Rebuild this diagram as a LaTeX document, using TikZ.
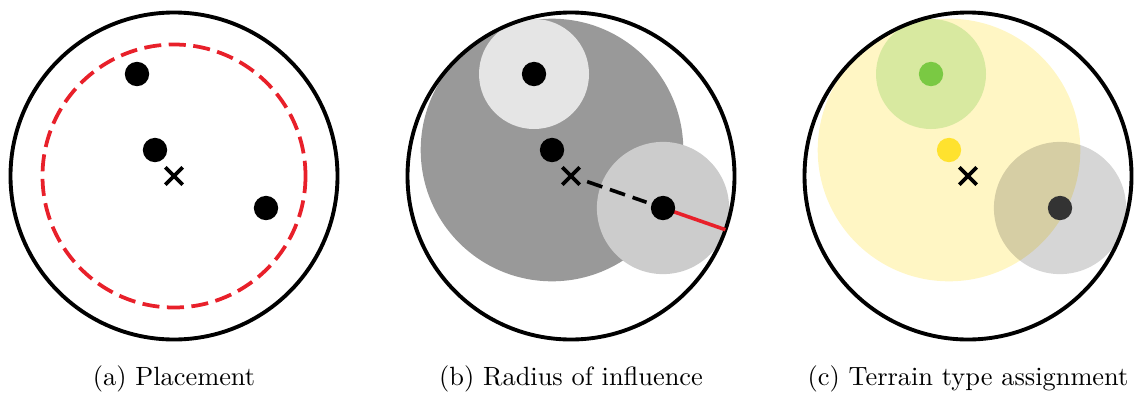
\documentclass[tikz,border=0pt]{standalone}
\usetikzlibrary{shapes.misc,calc}
\definecolor{redline}{HTML}{E8202A}
\definecolor{dgray}{HTML}{999999}
\definecolor{lgray}{HTML}{E5E5E5}
\definecolor{mgray}{HTML}{CCCCCC}
\definecolor{paleyellow}{HTML}{FFF6C4}
\definecolor{palegreen}{HTML}{D8E9A0}
\definecolor{dotgreen}{HTML}{7AC943}
\definecolor{dotyellow}{HTML}{FFE22E}
\definecolor{dotdark}{HTML}{333333}
\tikzset{
  outer/.style={draw=black,line width=1.5pt},
  dot/.style={circle,fill=#1,inner sep=0pt,minimum size=9.4pt},
  dot/.default=black,
  centremark/.style={cross out,draw=black,line width=1.45pt,inner sep=0pt,minimum size=5.3pt},
  reddash/.style={draw=redline,line width=1.45pt,dash pattern=on 6.6pt off 2.9pt},
  blackdash/.style={draw=black,line width=1.4pt,dash pattern=on 6.2pt off 3.1pt},
  redray/.style={draw=redline,line width=1.4pt},
  caption/.style={anchor=base,font=\fontsize{10.2}{12}\selectfont,inner sep=0pt}
}
\begin{document}
\begin{tikzpicture}[x=0.3865pt,y=-0.3865pt]
\useasboundingbox (0,0) rectangle (1137,393);

% ---------- (a) Placement ----------
\coordinate (ca) at (174,176);
\draw[reddash] (ca) circle[radius=131.5];
\draw[outer] (ca) circle[radius=163.5];
\node[dot] (a1) at ($(ca)+(-37,-102)$) {};
\node[dot] (a2) at ($(ca)+(-19,-26)$) {};
\node[dot] (a3) at ($(ca)+(92,32)$) {};
\node[centremark] (xa) at (ca) {};
\node[caption] (capa) at (174,385) {(a) Placement};

% ---------- (b) Radius of influence ----------
\coordinate (cb) at (571,176);
\fill[dgray] ($(cb)+(-19,-26)$) circle[radius=131.3];
\fill[lgray] ($(cb)+(-37,-102)$) circle[radius=55];
\fill[mgray] ($(cb)+(92,32)$) circle[radius=66.1];
\draw[outer] (cb) circle[radius=163.5];
\node[dot] (b1) at ($(cb)+(-37,-102)$) {};
\node[dot] (b2) at ($(cb)+(-19,-26)$) {};
\coordinate (b3c) at ($(cb)+(92,32)$);
\coordinate (bend) at ($(cb)+(154.4,53.7)$);
\draw[blackdash] ($(cb)!6.6pt!(b3c)$) -- ($(cb)!30.9pt!(b3c)$);
\draw[redray] (b3c) -- (bend);
\node[dot] (b3) at (b3c) {};
\node[centremark] (xb) at (cb) {};
\node[caption] (capb) at (571,385) {(b) Radius of influence};

% ---------- (c) Terrain type assignment ----------
\coordinate (cc) at (968,176);
\fill[paleyellow] ($(cc)+(-19,-26)$) circle[radius=131.3];
\fill[palegreen] ($(cc)+(-37,-102)$) circle[radius=55];
\fill[black,opacity=0.16] ($(cc)+(92,32)$) circle[radius=66.1];
\draw[outer] (cc) circle[radius=163.5];
\node[dot=dotgreen] (c1) at ($(cc)+(-37,-102)$) {};
\node[dot=dotyellow] (c2) at ($(cc)+(-19,-26)$) {};
\node[dot=dotdark] (c3) at ($(cc)+(92,32)$) {};
\node[centremark] (xc) at (cc) {};
\node[caption] (capc) at (968,385) {(c) Terrain type assignment};
\end{tikzpicture}
\end{document}
